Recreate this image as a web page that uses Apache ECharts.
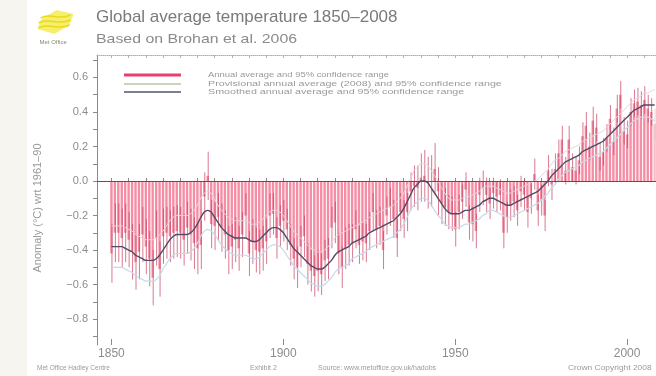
<!DOCTYPE html>
<html>
<head>
<meta charset="utf-8">
<script src="https://cdn.jsdelivr.net/npm/echarts@6/dist/echarts.min.js"></script>
<style>
  html, body { margin: 0; padding: 0; background: #ffffff; }
  #chart { width: 656px; height: 376px; }
</style>
</head>
<body>
<div id="chart"></div>
<script>
// Global average temperature anomaly (°C, relative to 1961–90), HadCRUT3-style record
const firstYear = 1850;

// Annual averages, one per year from 1850 to 2008
const annual = [
  -0.42, -0.30, -0.30, -0.33, -0.30, -0.34, -0.41, -0.47, -0.41, -0.31,
  -0.38, -0.45, -0.56, -0.33, -0.51, -0.32, -0.30, -0.32, -0.30, -0.29,
  -0.30, -0.34, -0.27, -0.31, -0.36, -0.39, -0.37, -0.09, 0.03, -0.25,
  -0.26, -0.21, -0.27, -0.31, -0.40, -0.38, -0.34, -0.39, -0.31, -0.20,
  -0.42, -0.35, -0.40, -0.41, -0.39, -0.35, -0.20, -0.19, -0.33, -0.26,
  -0.23, -0.28, -0.37, -0.45, -0.50, -0.38, -0.32, -0.48, -0.52, -0.55,
  -0.52, -0.54, -0.46, -0.45, -0.27, -0.24, -0.42, -0.50, -0.39, -0.37,
  -0.36, -0.28, -0.37, -0.35, -0.36, -0.29, -0.18, -0.28, -0.26, -0.40,
  -0.20, -0.15, -0.22, -0.33, -0.18, -0.22, -0.18, -0.06, -0.03, -0.04,
  0.02, 0.03, -0.01, 0.00, 0.07, -0.06, -0.13, -0.15, -0.18, -0.19,
  -0.28, -0.18, -0.12, -0.05, -0.24, -0.25, -0.29, -0.08, -0.04, -0.08,
  -0.13, -0.07, -0.09, -0.08, -0.30, -0.21, -0.14, -0.12, -0.17, -0.06,
  -0.08, -0.18, -0.10, 0.04, -0.17, -0.11, -0.20, 0.06, -0.02, 0.07,
  0.16, 0.24, 0.06, 0.24, 0.08, 0.06, 0.12, 0.26, 0.32, 0.20,
  0.35, 0.31, 0.14, 0.17, 0.25, 0.36, 0.23, 0.42, 0.50, 0.29,
  0.27, 0.40, 0.45, 0.46, 0.44, 0.47, 0.42, 0.40, 0.33
];

// Half-width of the 95% confidence range of each annual average
const annualErr = [
  0.17, 0.17, 0.17, 0.17, 0.17, 0.16, 0.16, 0.16, 0.16, 0.16,
  0.16, 0.16, 0.16, 0.16, 0.16, 0.16, 0.15, 0.15, 0.15, 0.15,
  0.15, 0.15, 0.15, 0.15, 0.15, 0.15, 0.14, 0.14, 0.14, 0.14,
  0.14, 0.14, 0.14, 0.14, 0.14, 0.13, 0.13, 0.13, 0.13, 0.13,
  0.13, 0.13, 0.13, 0.13, 0.13, 0.13, 0.13, 0.12, 0.12, 0.12,
  0.12, 0.12, 0.12, 0.12, 0.12, 0.12, 0.12, 0.12, 0.12, 0.12,
  0.12, 0.12, 0.12, 0.12, 0.12, 0.12, 0.12, 0.12, 0.12, 0.12,
  0.11, 0.11, 0.11, 0.11, 0.11, 0.11, 0.11, 0.11, 0.11, 0.11,
  0.11, 0.11, 0.11, 0.11, 0.11, 0.11, 0.11, 0.11, 0.12, 0.13,
  0.14, 0.15, 0.15, 0.15, 0.15, 0.14, 0.12, 0.11, 0.10, 0.10,
  0.10, 0.10, 0.10, 0.10, 0.10, 0.10, 0.10, 0.10, 0.10, 0.10,
  0.09, 0.09, 0.09, 0.09, 0.09, 0.09, 0.09, 0.09, 0.09, 0.09,
  0.09, 0.09, 0.09, 0.09, 0.09, 0.09, 0.09, 0.09, 0.09, 0.09,
  0.08, 0.08, 0.08, 0.08, 0.08, 0.08, 0.08, 0.08, 0.08, 0.08,
  0.08, 0.08, 0.08, 0.08, 0.08, 0.08, 0.08, 0.08, 0.08, 0.08,
  0.08, 0.08, 0.08, 0.08, 0.08, 0.08, 0.08, 0.08, 0.09
];

// Smoothed annual average
const smooth = [
  -0.38, -0.38, -0.38, -0.38, -0.39, -0.40, -0.41, -0.43, -0.44, -0.45,
  -0.46, -0.46, -0.46, -0.45, -0.43, -0.40, -0.37, -0.34, -0.32, -0.31,
  -0.31, -0.31, -0.31, -0.30, -0.28, -0.25, -0.21, -0.18, -0.17, -0.18,
  -0.21, -0.24, -0.27, -0.29, -0.31, -0.32, -0.33, -0.33, -0.33, -0.33,
  -0.34, -0.35, -0.35, -0.34, -0.32, -0.30, -0.28, -0.27, -0.27, -0.28,
  -0.30, -0.33, -0.36, -0.39, -0.41, -0.43, -0.45, -0.47, -0.49, -0.50,
  -0.51, -0.51, -0.50, -0.48, -0.46, -0.43, -0.41, -0.40, -0.39, -0.38,
  -0.36, -0.35, -0.34, -0.33, -0.32, -0.30, -0.29, -0.28, -0.27, -0.26,
  -0.25, -0.24, -0.23, -0.21, -0.19, -0.16, -0.12, -0.08, -0.04, -0.02,
  0.00, 0.00, -0.01, -0.04, -0.07, -0.10, -0.13, -0.16, -0.18, -0.19,
  -0.19, -0.19, -0.18, -0.17, -0.17, -0.16, -0.15, -0.14, -0.12, -0.11,
  -0.10, -0.10, -0.11, -0.12, -0.13, -0.14, -0.14, -0.13, -0.12, -0.11,
  -0.10, -0.09, -0.08, -0.07, -0.06, -0.04, -0.02, 0.00, 0.03, 0.05,
  0.07, 0.09, 0.11, 0.12, 0.13, 0.14, 0.15, 0.17, 0.18, 0.19,
  0.20, 0.21, 0.22, 0.23, 0.25, 0.27, 0.29, 0.31, 0.33, 0.35,
  0.37, 0.39, 0.41, 0.42, 0.43, 0.44, 0.44, 0.44, 0.44
];

// Half-width of the 95% confidence range of the smoothed average
const smoothErr = [
  0.12, 0.12, 0.12, 0.12, 0.12, 0.12, 0.12, 0.12, 0.12, 0.12,
  0.12, 0.12, 0.12, 0.12, 0.12, 0.11, 0.11, 0.11, 0.11, 0.11,
  0.11, 0.11, 0.11, 0.11, 0.11, 0.11, 0.11, 0.11, 0.11, 0.11,
  0.10, 0.10, 0.10, 0.10, 0.10, 0.10, 0.10, 0.10, 0.10, 0.10,
  0.10, 0.10, 0.10, 0.10, 0.10, 0.10, 0.10, 0.10, 0.10, 0.10,
  0.10, 0.10, 0.10, 0.10, 0.10, 0.10, 0.10, 0.10, 0.10, 0.10,
  0.10, 0.10, 0.10, 0.10, 0.10, 0.10, 0.10, 0.10, 0.10, 0.10,
  0.09, 0.09, 0.09, 0.09, 0.09, 0.09, 0.09, 0.09, 0.09, 0.09,
  0.09, 0.09, 0.09, 0.09, 0.09, 0.09, 0.09, 0.09, 0.10, 0.10,
  0.10, 0.10, 0.10, 0.10, 0.10, 0.10, 0.09, 0.09, 0.08, 0.08,
  0.08, 0.08, 0.08, 0.08, 0.08, 0.08, 0.08, 0.08, 0.08, 0.08,
  0.07, 0.07, 0.07, 0.07, 0.07, 0.07, 0.07, 0.07, 0.07, 0.07,
  0.07, 0.07, 0.07, 0.07, 0.07, 0.07, 0.07, 0.07, 0.07, 0.07,
  0.06, 0.06, 0.06, 0.06, 0.06, 0.06, 0.06, 0.06, 0.06, 0.06,
  0.06, 0.06, 0.06, 0.06, 0.06, 0.06, 0.06, 0.06, 0.06, 0.06,
  0.06, 0.06, 0.06, 0.06, 0.06, 0.07, 0.07, 0.08, 0.09
];

const provisionalYear = 2008;
const xLabelYears = [1850, 1900, 1950, 2000];
const xMinorTickYears = [1850, 1855, 1860, 1865, 1870, 1875, 1880, 1885, 1890, 1895,
  1900, 1905, 1910, 1915, 1920, 1925, 1930, 1935, 1940, 1945, 1950, 1955, 1960, 1965,
  1970, 1975, 1980, 1985, 1990, 1995, 2000, 2005];
const yLabelValues = [-0.8, -0.6, -0.4, -0.2, 0.0, 0.2, 0.4, 0.6];
const yTickValues = [-0.9, -0.8, -0.7, -0.6, -0.5, -0.4, -0.3, -0.2, -0.1, 0.0,
  0.1, 0.2, 0.3, 0.4, 0.5, 0.6, 0.7];

const legendLabels = [
  'Annual average and 95% confidence range',
  'Provisional annual average (2008) and 95% confidence range',
  'Smoothed annual average and 95% confidence range'
];

const FONT = '"Liberation Sans", Arial, sans-serif';

const annualData = annual.map((v, i) => [firstYear + i, v, annualErr[i]]);
const smoothData = smooth.map((v, i) => [firstYear + i, v]);
const smoothLowData = smooth.map((v, i) => [firstYear + i, v - smoothErr[i]]);
const smoothHighData = smooth.map((v, i) => [firstYear + i, v + smoothErr[i]]);

function renderAnnual(params, api) {
  const year = api.value(0);
  const v = api.value(1);
  const e = api.value(2);
  const base = api.coord([year, 0]);
  const top = api.coord([year, v]);
  const w = api.size([1, 0])[0] * 0.7;
  const provisional = year === provisionalYear;
  const lo = api.coord([year, v - e]);
  const hi = api.coord([year, v + e]);
  return {
    type: 'group',
    children: [
      {
        type: 'rect',
        shape: { x: base[0] - w / 2, y: Math.min(base[1], top[1]), width: w, height: Math.abs(base[1] - top[1]) },
        style: { fill: provisional ? '#f4c0cc' : '#f58ea5' }
      },
      {
        type: 'line',
        shape: { x1: base[0] + 0.5, y1: lo[1], x2: base[0] + 0.5, y2: hi[1] },
        style: { stroke: provisional ? '#c9cfc0' : '#c8405f', lineWidth: 1, opacity: 0.7 }
      }
    ]
  };
}

const chart = echarts.init(document.getElementById('chart'), null, { renderer: 'canvas' });

const xCommon = { type: 'value', min: 1845.8, max: 2008.4, splitLine: { show: false } };

chart.setOption({
  animation: false,
  backgroundColor: '#ffffff',
  grid: { left: 97, right: 0, top: 55, bottom: 31 },
  xAxis: [
    Object.assign({}, xCommon, {
      position: 'bottom',
      axisLine: { lineStyle: { color: '#8a8a8a', width: 1 } },
      axisTick: { show: true, inside: true, length: 3, customValues: xMinorTickYears, lineStyle: { color: '#8a8a8a' } },
      axisLabel: { customValues: xLabelYears, color: '#8c8c8c', fontSize: 12, fontFamily: FONT, margin: 3, formatter: v => String(v) }
    }),
    Object.assign({}, xCommon, {
      position: 'bottom',
      axisLine: { show: false },
      axisTick: { show: true, inside: true, length: 6, customValues: xLabelYears, lineStyle: { color: '#8a8a8a' } },
      axisLabel: { show: false }
    }),
    Object.assign({}, xCommon, {
      position: 'top',
      axisLine: { lineStyle: { color: '#b0b0b0', width: 1, type: 'dotted' } },
      axisTick: { show: true, inside: true, length: 3, customValues: xMinorTickYears, lineStyle: { color: '#b0b0b0' } },
      axisLabel: { show: false }
    })
  ],
  yAxis: {
    type: 'value',
    min: -0.95,
    max: 0.73,
    splitLine: { show: false },
    axisLine: { show: true, lineStyle: { color: '#8a8a8a', width: 1 } },
    axisTick: { show: true, length: 4, customValues: yTickValues, lineStyle: { color: '#8a8a8a' } },
    axisLabel: {
      customValues: yLabelValues,
      color: '#8c8c8c',
      fontSize: 11,
      fontFamily: FONT,
      margin: 9,
      formatter: v => (v < 0 ? '\u2212' : '') + Math.abs(v).toFixed(1)
    }
  },
  series: [
    {
      type: 'custom',
      name: 'annual',
      xAxisIndex: 0,
      renderItem: renderAnnual,
      data: annualData,
      encode: { x: 0, y: 1 },
      clip: true,
      silent: true,
      z: 2
    },
    {
      type: 'line',
      name: 'smoothLow',
      data: smoothLowData,
      showSymbol: false,
      smooth: 0.3,
      lineStyle: { color: '#c6d9ea', width: 1.2 },
      silent: true,
      z: 3
    },
    {
      type: 'line',
      name: 'smoothHigh',
      data: smoothHighData,
      showSymbol: false,
      smooth: 0.3,
      lineStyle: { color: '#e3d5e2', width: 1 },
      silent: true,
      z: 3
    },
    {
      type: 'line',
      name: 'smooth',
      data: smoothData,
      showSymbol: false,
      smooth: 0.3,
      lineStyle: { color: '#4c4c68', width: 1.4 },
      silent: true,
      z: 5,
      markLine: {
        silent: true,
        symbol: 'none',
        label: { show: false },
        lineStyle: { color: '#555555', width: 1, type: 'solid' },
        data: [{ yAxis: 0 }]
      }
    }
  ],
  graphic: [
    // pale strip on the left edge of the sheet
    { type: 'rect', left: 0, top: 0, shape: { width: 27, height: 376 }, style: { fill: '#f6f5ef' }, z: -10 },
    // Met Office logo
    {
      type: 'group', left: 36, top: 10, z: 10,
      children: [
        { type: 'polygon', shape: { points: [[4, 11], [19, 2], [36, 6], [32, 17], [17, 26], [0, 21]] }, style: { fill: '#f7ef6a' } },
        { type: 'bezierCurve', shape: { x1: 3, y1: 10, x2: 33, y2: 7, cpx1: 12, cpy1: 4, cpx2: 21, cpy2: 13 }, style: { stroke: '#e8d820', lineWidth: 1.5, fill: null } },
        { type: 'bezierCurve', shape: { x1: 1, y1: 15, x2: 33, y2: 12, cpx1: 10, cpy1: 9, cpx2: 21, cpy2: 18 }, style: { stroke: '#e8d820', lineWidth: 1.5, fill: null } },
        { type: 'bezierCurve', shape: { x1: 1, y1: 20, x2: 32, y2: 17, cpx1: 10, cpy1: 14, cpx2: 21, cpy2: 23 }, style: { stroke: '#e8d820', lineWidth: 1.5, fill: null } },
        { type: 'text', x: 2, y: 31, style: { text: 'Met Office', fill: '#8a8a6a', fontSize: 6, fontFamily: FONT } }
      ]
    },
    // title block
    { type: 'text', left: 96, top: 9, style: { text: 'Global average temperature 1850\u20132008', fill: '#7a7a7a', fontSize: 17, fontFamily: FONT } },
    { type: 'text', x: 96, y: 39, scaleX: 1.22, style: { text: 'Based on Brohan et al. 2006', fill: '#8a8a8a', fontSize: 13, fontFamily: FONT, verticalAlign: 'middle' } },
    // axis title
    { type: 'text', x: 38, y: 208, rotation: Math.PI / 2, style: { text: 'Anomaly (\u00b0C) wrt 1961\u201390', fill: '#9a9a9a', fontSize: 11, fontFamily: FONT, align: 'center', verticalAlign: 'middle' } },
    // legend
    { type: 'line', shape: { x1: 124, y1: 75, x2: 181, y2: 75 }, style: { stroke: '#e8406a', lineWidth: 3 }, z: 10 },
    { type: 'line', shape: { x1: 124, y1: 84, x2: 181, y2: 84 }, style: { stroke: '#c9d3c2', lineWidth: 2 }, z: 10 },
    { type: 'line', shape: { x1: 124, y1: 92, x2: 181, y2: 92 }, style: { stroke: '#55556e', lineWidth: 1.5 }, z: 10 },
    { type: 'text', x: 208, y: 75, scaleX: 1.18, style: { text: legendLabels[0], fill: '#9a9a9a', fontSize: 8, fontFamily: FONT, verticalAlign: 'middle' }, z: 10 },
    { type: 'text', x: 208, y: 83.5, scaleX: 1.34, style: { text: legendLabels[1], fill: '#9a9a9a', fontSize: 8, fontFamily: FONT, verticalAlign: 'middle' }, z: 10 },
    { type: 'text', x: 208, y: 92, scaleX: 1.34, style: { text: legendLabels[2], fill: '#9a9a9a', fontSize: 8, fontFamily: FONT, verticalAlign: 'middle' }, z: 10 },
    // footer
    { type: 'text', x: 37, y: 368, style: { text: 'Met Office Hadley Centre', fill: '#9a9a9a', fontSize: 6.5, fontFamily: FONT, verticalAlign: 'middle' } },
    { type: 'text', x: 250, y: 368, style: { text: 'Exhibit 2', fill: '#9a9a9a', fontSize: 7, fontFamily: FONT, verticalAlign: 'middle' } },
    { type: 'text', x: 318, y: 368, style: { text: 'Source: www.metoffice.gov.uk/hadobs', fill: '#9a9a9a', fontSize: 7, fontFamily: FONT, verticalAlign: 'middle' } },
    { type: 'text', x: 568, y: 368, scaleX: 1.2, style: { text: 'Crown Copyright 2008', fill: '#9a9a9a', fontSize: 7, fontFamily: FONT, verticalAlign: 'middle' } }
  ]
});
</script>
</body>
</html>
